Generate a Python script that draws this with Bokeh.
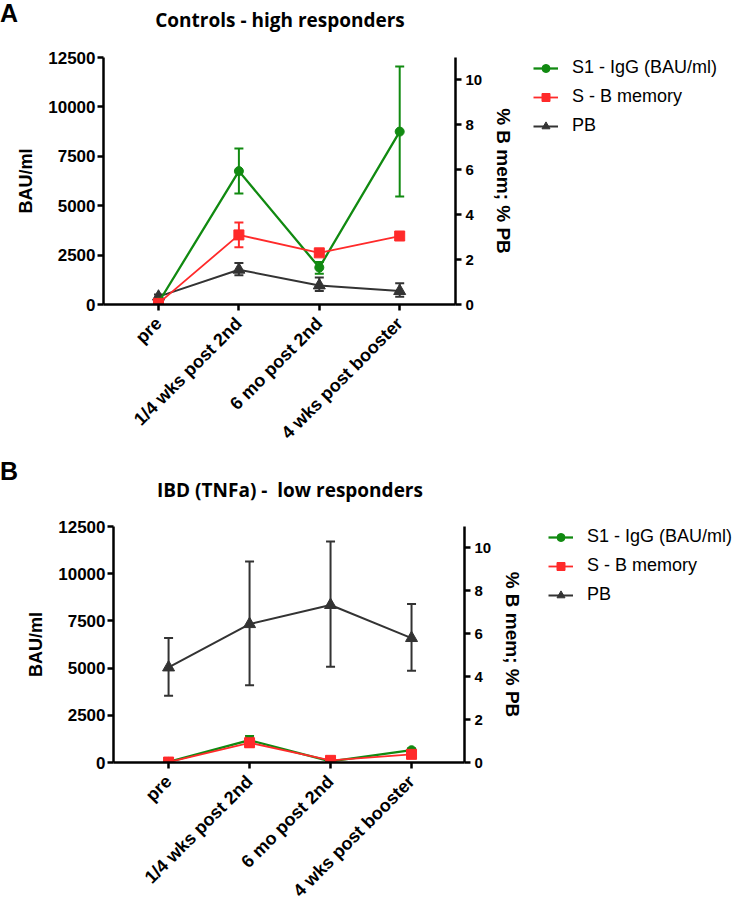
import math
from bokeh.plotting import figure
from bokeh.models import (Range1d, LinearAxis, FixedTicker, Whisker, ColumnDataSource,
                          Legend, LegendItem, TeeHead, Div)
from bokeh.layouts import column, row
from bokeh.embed import file_html
from bokeh.resources import INLINE

categories = ["pre", "1/4 wks post 2nd", "6 mo post 2nd", "4 wks post booster"]
left_ticks = [0, 2500, 5000, 7500, 10000, 12500]
right_ticks = [0, 2, 4, 6, 8, 10]
series_names = ["S1 - IgG (BAU/ml)", "S - B memory", "PB"]

# Panel A: Controls - high responders
a_igg = [100, 6750, 1870, 8750]
a_igg_lo = [50, 5620, 1550, 5470]
a_igg_hi = [150, 7900, 2150, 12050]
a_bmem = [0.05, 3.1, 2.3, 3.05]
a_bmem_lo = [0.0, 2.55, 2.2, 2.9]
a_bmem_hi = [0.1, 3.65, 2.4, 3.2]
a_pb = [0.35, 1.55, 0.85, 0.6]
a_pb_lo = [0.25, 1.3, 0.6, 0.35]
a_pb_hi = [0.45, 1.85, 1.2, 0.95]

# Panel B: IBD (TNFa) - low responders
b_igg = [30, 1180, 60, 650]
b_igg_lo = [0, 950, 20, 560]
b_igg_hi = [60, 1400, 100, 740]
b_bmem = [0.02, 0.92, 0.1, 0.38]
b_bmem_lo = [0.0, 0.72, 0.05, 0.3]
b_bmem_hi = [0.05, 1.15, 0.15, 0.45]
b_pb = [4.43, 6.45, 7.34, 5.8]
b_pb_lo = [3.11, 3.6, 4.46, 4.28]
b_pb_hi = [5.8, 9.37, 10.3, 7.39]

GREEN = "#118a11"
RED = "#ff2a2a"
DARK = "#333333"
FONT = "Liberation Sans"
TOTAL_W = 740

STYLES = [  # (color, line width, marker, marker size)
    (GREEN, 2.3, "circle", 9),
    (RED, 1.8, "square", 10),
    (DARK, 2.0, "triangle", 12),
]


def header(letter, title, height, title_center_x, title_top, letter_top):
    html = (
        f'<div style="position:relative;width:{TOTAL_W}px;height:{height}px;">'
        f'<span style="position:absolute;left:0px;top:{letter_top}px;'
        f'font-family:\'Liberation Sans\';font-weight:bold;font-size:25px;'
        f'line-height:25px;color:black;">{letter}</span>'
        f'<span style="position:absolute;left:{title_center_x}px;top:{title_top}px;'
        f'transform:translateX(-50%);white-space:pre;font-family:\'Open Sans\';'
        f'font-weight:bold;font-size:19px;line-height:24px;color:black;">{title}</span>'
        f'</div>'
    )
    return Div(text=html, width=TOTAL_W, height=height, margin=(0, 0, 0, 0))


def make_panel(igg, igg_lo, igg_hi, bmem, bmem_lo, bmem_hi,
               pb, pb_lo, pb_hi, ml, mt, fw, fh, mb, mr, xs, xe):
    p = figure(frame_width=fw, frame_height=fh,
               min_border_left=ml, min_border_right=mr,
               min_border_top=mt, min_border_bottom=mb,
               x_range=Range1d(xs, xe), y_range=Range1d(0, 12500),
               output_backend="svg", toolbar_location=None, title=None,
               margin=(0, 0, 0, 0))
    p.extra_y_ranges = {"right": Range1d(0, 11)}
    p.outline_line_color = None
    p.xgrid.visible = False
    p.ygrid.visible = False

    raxis = LinearAxis(y_range_name="right")
    p.add_layout(raxis, "right")

    for ax in [p.xaxis[0], p.yaxis[0], raxis]:
        ax.axis_line_width = 2.5
        ax.axis_line_color = "black"
        ax.major_tick_line_width = 2.5
        ax.major_tick_line_color = "black"
        ax.major_tick_out = 6
        ax.major_tick_in = 0
        ax.minor_tick_line_color = None
        ax.major_label_text_font = FONT
        ax.major_label_text_font_style = "bold"
        ax.major_label_text_color = "black"
        ax.axis_label_text_font = FONT
        ax.axis_label_text_font_style = "bold"
        ax.axis_label_text_color = "black"

    xa = p.xaxis[0]
    xa.ticker = FixedTicker(ticks=list(range(len(categories))))
    xa.major_label_overrides = {i: c for i, c in enumerate(categories)}
    xa.major_label_orientation = math.pi / 4
    xa.major_label_text_font_size = "18px"
    xa.major_label_standoff = 10

    ya = p.yaxis[0]
    ya.ticker = FixedTicker(ticks=left_ticks)
    ya.major_label_text_font_size = "17px"
    ya.major_label_standoff = 2
    ya.axis_label = "BAU/ml"
    ya.axis_label_text_font_size = "18px"
    ya.axis_label_standoff = 9

    raxis.ticker = FixedTicker(ticks=right_ticks)
    raxis.major_label_text_font_size = "15px"
    raxis.major_label_standoff = 4
    raxis.axis_label = "% B mem; % PB"
    raxis.axis_label_text_font_size = "19px"
    raxis.axis_label_standoff = 8

    x = list(range(len(categories)))
    srcs = [ColumnDataSource(dict(x=x, y=igg, lo=igg_lo, hi=igg_hi)),
            ColumnDataSource(dict(x=x, y=bmem, lo=bmem_lo, hi=bmem_hi)),
            ColumnDataSource(dict(x=x, y=pb, lo=pb_lo, hi=pb_hi))]
    rngs = [None, "right", "right"]

    for i in [2, 0, 1]:
        color = STYLES[i][0]
        kw = {} if rngs[i] is None else {"y_range_name": rngs[i]}
        p.add_layout(Whisker(source=srcs[i], base="x", upper="hi", lower="lo",
                             dimension="height", line_color=color, line_width=2,
                             upper_head=TeeHead(size=9, line_color=color, line_width=2),
                             lower_head=TeeHead(size=9, line_color=color, line_width=2),
                             **kw))
    for i in [2, 0, 1]:
        color, lw, marker, size = STYLES[i]
        kw = {} if rngs[i] is None else {"y_range_name": rngs[i]}
        p.line("x", "y", source=srcs[i], color=color, line_width=lw, **kw)
        p.scatter("x", "y", source=srcs[i], marker=marker, size=size, color=color, **kw)
    return p, srcs


def make_legend(srcs, width, height, top):
    # a separate, axis-less figure that only shows the legend; its renderers reuse the
    # panel's data but lie outside this figure's (off-data) x range, so only the legend shows
    lp = figure(width=width, height=height, x_range=Range1d(100, 101), y_range=Range1d(0, 1),
                x_axis_location=None, y_axis_location=None,
                min_border_left=0, min_border_right=0, min_border_top=top,
                min_border_bottom=0, output_backend="svg", toolbar_location=None,
                title=None, margin=(0, 0, 0, 0))
    lp.outline_line_color = None
    lp.xgrid.visible = False
    lp.ygrid.visible = False
    items = []
    for name, src, (color, lw, marker, size) in zip(series_names, srcs, STYLES):
        r1 = lp.line("x", "y", source=src, color=color, line_width=lw)
        r2 = lp.scatter("x", "y", source=src, marker=marker, size=size, color=color)
        items.append(LegendItem(label=name, renderers=[r1, r2]))
    lp.add_layout(Legend(items=items, location="top_left", border_line_color=None,
                         background_fill_alpha=0, padding=0, margin=0, spacing=8,
                         label_height=20, glyph_height=20, glyph_width=25,
                         label_standoff=14, label_text_font=FONT,
                         label_text_font_size="18px", label_text_color="black"))
    return lp


# Panel A  (page y: header 0-38, figure 38-455)
head_a = header("A", "Controls - high responders", 38, 280, 8, 1)
pa, srcs_a = make_panel(a_igg, a_igg_lo, a_igg_hi,
                        a_bmem, a_bmem_lo, a_bmem_hi, a_pb, a_pb_lo, a_pb_hi,
                        ml=103, mt=19, fw=352, fh=247, mb=151, mr=78,
                        xs=-0.684, xe=3.694)
leg_a = make_legend(srcs_a, TOTAL_W - (103 + 352 + 78), 19 + 247 + 151, 13)

# Panel B  (page y: header 455-515, figure 515-890)
head_b = header("B", "IBD (TNFa) -  low responders", 60, 290, 23, 4)
pb_fig, srcs_b = make_panel(b_igg, b_igg_lo, b_igg_hi,
                            b_bmem, b_bmem_lo, b_bmem_hi, b_pb, b_pb_lo, b_pb_hi,
                            ml=113, mt=11, fw=351, fh=236, mb=128, mr=84,
                            xs=-0.68, xe=3.654)
leg_b = make_legend(srcs_b, TOTAL_W - (113 + 351 + 84), 11 + 236 + 128, 10)

layout = column(head_a, row(pa, leg_a, spacing=0), head_b, row(pb_fig, leg_b, spacing=0),
                spacing=0)
open("out.html", "w").write(file_html(layout, INLINE))
